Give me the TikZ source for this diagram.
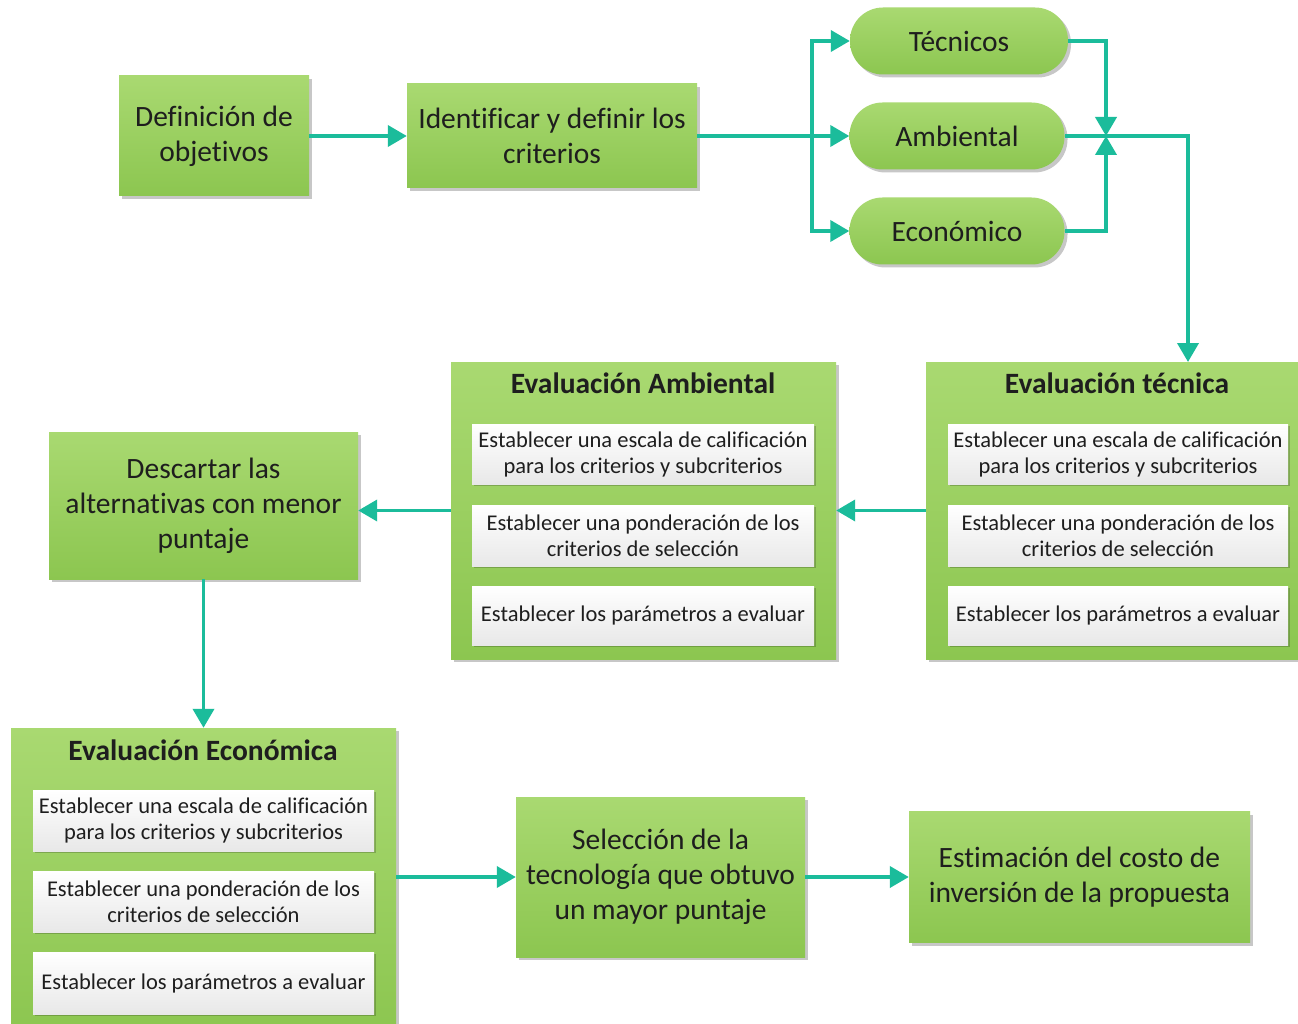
\documentclass[tikz,border=0pt]{standalone}
\usepackage{fontspec}
\setmainfont[Ligatures=NoCommon]{Carlito}
\usetikzlibrary{arrows.meta,shadows}
\definecolor{arrc}{HTML}{1BBC9B}
\definecolor{gtop}{HTML}{A9D971}
\definecolor{gbot}{HTML}{8CC650}
\definecolor{txt}{HTML}{1E1E1E}
\tikzset{
  gbox/.style={top color=gtop, bottom color=gbot, draw=none, inner sep=0pt,
    drop shadow={shadow xshift=3pt, shadow yshift=-3pt, opacity=0.22, fill=black},
    align=center, text=txt, font=\fontsize{29.5}{35}\selectfont},
  pill/.style={gbox, rounded corners=33pt},
  subbox/.style={top color=white, bottom color=black!9, draw=none, inner sep=0pt,
    drop shadow={shadow xshift=2pt, shadow yshift=-2pt, opacity=0.2, fill=black},
    align=center, text=txt, font=\fontsize{22.5}{26}\selectfont},
  ttl/.style={font=\fontsize{29.5}{32}\selectfont\bfseries, text=txt, inner sep=0pt},
  arr/.style={draw=arrc, line width=3.8pt, -{Triangle[width=21pt,length=19pt]}},
}
\begin{document}
\begin{tikzpicture}[x=1pt,y=-1pt]
\clip (0,0) rectangle (1298,1024);
\fill[white] (0,0) rectangle (1298,1024);

% top row
\node[gbox, minimum width=190pt, minimum height=120pt] (def) at (214,136) {Definición de\\objetivos};
\node[gbox, minimum width=290pt, minimum height=104pt] (idf) at (552,136) {Identificar y definir los\\criterios};
\node[pill, minimum width=218pt, minimum height=67pt] (tec) at (959,41) {Técnicos};
\node[pill, minimum width=215pt, minimum height=67pt] (amb) at (957,136) {Ambiental};
\node[pill, minimum width=215pt, minimum height=67pt] (eco) at (957,231) {Económico};

% Evaluación técnica
\node[gbox, minimum width=372pt, minimum height=297pt] (evt) at (1112,510.5) {};
\node[ttl] (evtT) at (1117,383) {Evaluación técnica};
\node[subbox, minimum width=340pt, minimum height=60pt] (evt1) at (1118,454) {Establecer una escala de calificación\\para los criterios y subcriterios};
\node[subbox, minimum width=340pt, minimum height=61pt] (evt2) at (1118,535.5) {Establecer una ponderación de los\\criterios de selección};
\node[subbox, minimum width=340pt, minimum height=59pt] (evt3) at (1118,615.5) {Establecer los parámetros a evaluar};

% Evaluación Ambiental
\node[gbox, minimum width=385pt, minimum height=297pt] (eva) at (643.5,510.5) {};
\node[ttl] (evaT) at (643,383) {Evaluación Ambiental};
\node[subbox, minimum width=342pt, minimum height=60pt] (eva1) at (643,454) {Establecer una escala de calificación\\para los criterios y subcriterios};
\node[subbox, minimum width=342pt, minimum height=61pt] (eva2) at (643,535.5) {Establecer una ponderación de los\\criterios de selección};
\node[subbox, minimum width=342pt, minimum height=59pt] (eva3) at (643,615.5) {Establecer los parámetros a evaluar};

% Descartar
\node[gbox, minimum width=309pt, minimum height=147pt] (des) at (203.5,505.5) {Descartar las\\alternativas con menor\\puntaje};

% Evaluación Económica
\node[gbox, minimum width=385pt, minimum height=304pt] (eve) at (203.5,880) {};
\node[ttl] (eveT) at (203,750) {Evaluación Económica};
\node[subbox, minimum width=341pt, minimum height=61pt] (eve1) at (203.5,820.5) {Establecer una escala de calificación\\para los criterios y subcriterios};
\node[subbox, minimum width=341pt, minimum height=61pt] (eve2) at (203.5,901.5) {Establecer una ponderación de los\\criterios de selección};
\node[subbox, minimum width=341pt, minimum height=62pt] (eve3) at (203.5,983) {Establecer los parámetros a evaluar};

% bottom row
\node[gbox, minimum width=289pt, minimum height=160pt] (sel) at (660.5,877) {Selección de la\\tecnología que obtuvo\\un mayor puntaje};
\node[gbox, minimum width=341pt, minimum height=131pt] (est) at (1079.5,877) {Estimación del costo de\\inversión de la propuesta};

% connectors
\coordinate (bus) at (812,136);
\coordinate (jn) at (1106,136);
\coordinate (tin) at (1188,362);
\draw[arr] (def.east) -- (idf.west);
\draw[arr] (idf.east) -- (amb.west);
\draw[arr] (bus) |- (tec.west);
\draw[arr] (bus) |- (eco.west);
\draw[arr] (tec.east) -| (jn);
\draw[arr] (eco.east) -| (jn);
\draw[arr] (amb.east) -| (tin);
\draw[arr] (evt.west) -- (eva.east);
\draw[arr] (eva.west) -- (des.east |- eva.west);
\draw[arr] (des.south) -- (eve.north);
\draw[arr] (eve.east |- sel.west) -- (sel.west);
\draw[arr] (sel.east) -- (est.west |- sel.east);
\end{tikzpicture}
\end{document}
